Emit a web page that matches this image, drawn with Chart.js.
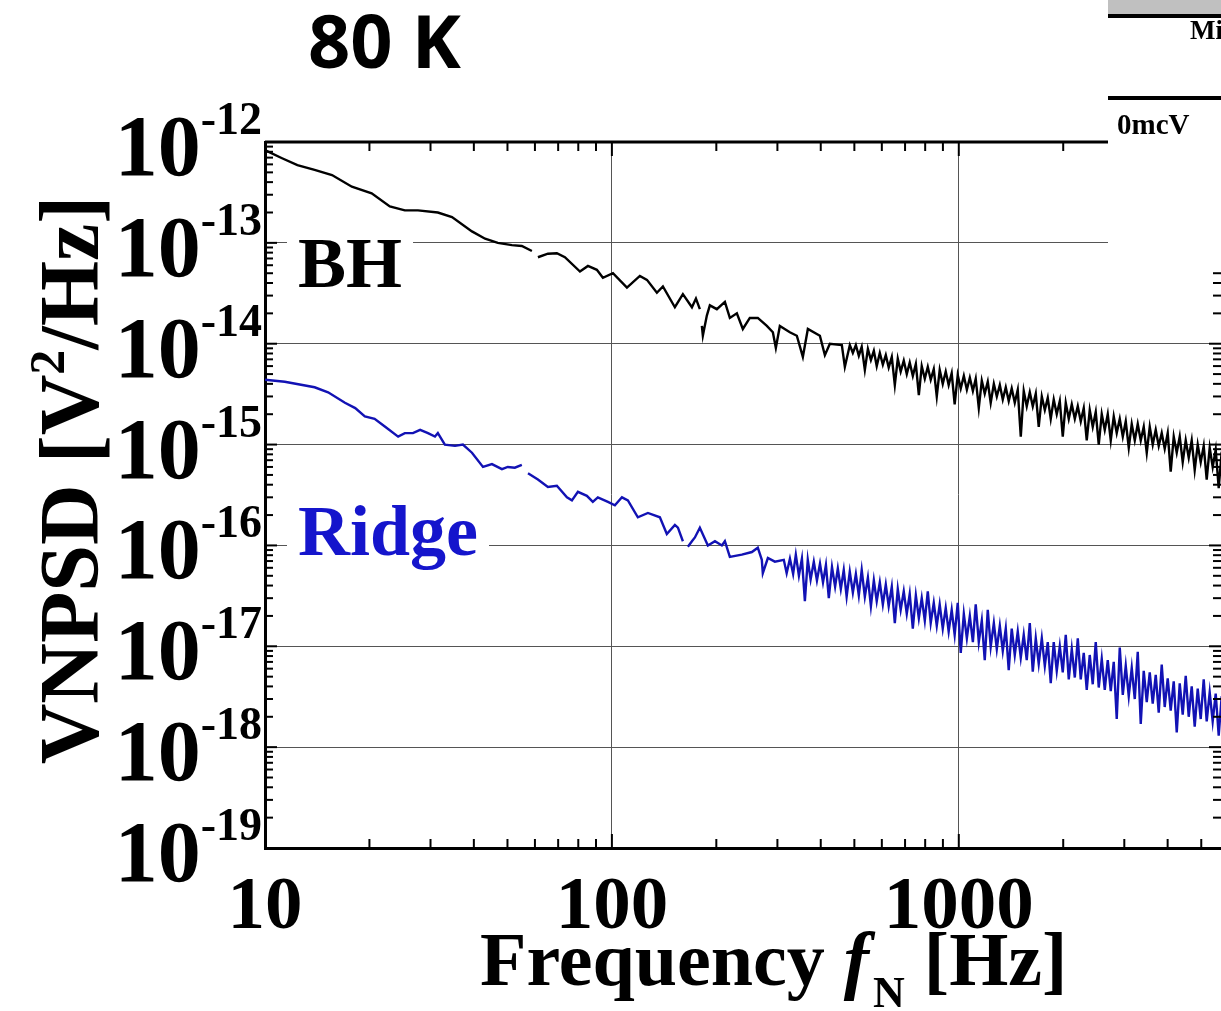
<!DOCTYPE html>
<html>
<head>
<meta charset="utf-8">
<script src="https://cdn.jsdelivr.net/npm/chart.js@4.4.0/dist/chart.umd.min.js"></script>
<style>
  html, body { margin: 0; padding: 0; background: #fff; }
  canvas { display: block; }
</style>
</head>
<body>
<canvas id="myChart" width="1221" height="1011"></canvas>
<script>
// values (frequency in Hz, VNPSD in V^2/Hz), null = gap in the trace
const bhFreqLow = [10, 11.2, 12.4, 13.9, 15.6, 17.8, 20.3, 22.9, 25.3, 27.6, 31.5, 34.6, 39.5, 43.1, 46.9, 51.5, 55.0, 58.8, 60,
  61.2, 65.4, 69.4, 73.2, 80.9, 85.3, 90.5, 94.2, 100.7, 110.5, 120.4, 126.2, 134.8, 140.3, 151.9, 160.2, 170.1, 174.7, 179.3, 180.5,
  181.7, 182.9, 187.8, 191.6, 200.7, 211.7, 218.8, 229.2, 238.5, 249.8, 263.4, 279.7, 291.1, 296.9, 304.9, 325.8, 341.3, 355.2,
  367.2, 397.7, 411.1, 424.9, 460.1, 469.4, 485.2];
const bhPsdLow = [8.3e-13, 6.9e-13, 5.9e-13, 5.3e-13, 4.7e-13, 3.6e-13, 3.1e-13, 2.3e-13, 2.1e-13, 2.1e-13, 2.0e-13, 1.8e-13,
  1.3e-13, 1.1e-13, 1.0e-13, 9.5e-14, 9.3e-14, 8.3e-14, null,
  7.2e-14, 7.8e-14, 7.9e-14, 7.2e-14, 5.2e-14, 5.9e-14, 5.4e-14, 4.5e-14, 5.0e-14, 3.6e-14, 4.7e-14, 4.3e-14, 3.2e-14, 3.7e-14,
  2.3e-14, 3.1e-14, 2.3e-14, 2.8e-14, 2.2e-14, null,
  1.5e-14, 1.2e-14, 1.9e-14, 2.4e-14, 2.2e-14, 2.6e-14, 1.8e-14, 2.0e-14, 1.4e-14, 1.8e-14, 1.8e-14, 1.5e-14, 1.3e-14, 9.1e-15,
  1.5e-14, 1.3e-14, 1.2e-14, 7.4e-15, 1.4e-14, 1.2e-14, 7.7e-15, 1.0e-14, 9.7e-15, 5.9e-15, 9.7e-15];

const ridgeFreqLow = [10, 11.4, 13.9, 15.2, 17.0, 18.2, 19.4, 20.7, 22.2, 24.2, 25.3, 26.7, 28.0, 29.5, 30.9, 31.5, 33.0, 35.3,
  37.2, 39.5, 42.5, 45.1, 48.2, 50.1, 52.5, 55.0, 56,
  57.3, 61.2, 65.4, 69.4, 74.2, 76.7, 79.8, 84.7, 88.1, 91.1, 97.4, 102.0, 106.9, 111.2, 118.8, 127.0, 137.5, 144.0, 151.9,
  155.0, 160.2, 163,
  165.6, 170.1, 173.5, 179.3, 189.1, 198.2, 207.5, 211.7, 218.8, 236.9, 253.2, 263.4, 270.5, 272.3, 281.6, 295.0,
  313, 319, 326, 333, 339, 346, 353, 360, 367, 374, 382, 390, 398, 406, 414, 422, 431, 440, 448, 457, 466, 475, 485];
const ridgePsdLow = [4.4e-15, 4.2e-15, 3.7e-15, 3.3e-15, 2.6e-15, 2.3e-15, 1.9e-15, 1.8e-15, 1.5e-15, 1.2e-15, 1.3e-15, 1.3e-15,
  1.4e-15, 1.3e-15, 1.2e-15, 1.3e-15, 1.0e-15, 9.7e-16, 1.0e-15, 8.3e-16, 6.0e-16, 6.4e-16, 5.7e-16, 6.0e-16, 5.9e-16, 6.3e-16, null,
  5.2e-16, 4.5e-16, 3.8e-16, 3.9e-16, 3.0e-16, 2.8e-16, 3.4e-16, 3.1e-16, 2.7e-16, 3.0e-16, 2.7e-16, 2.5e-16, 3.0e-16, 2.8e-16,
  1.9e-16, 2.1e-16, 1.9e-16, 1.3e-16, 1.6e-16, 1.5e-16, 1.1e-16, null,
  9.7e-17, 1.1e-16, 1.2e-16, 1.5e-16, 1.0e-16, 1.1e-16, 1.0e-16, 1.1e-16, 7.7e-17, 8.1e-17, 8.6e-17, 9.5e-17, 7.2e-17, 5.3e-17,
  7.5e-17, 6.9e-17,
  7.2e-17, 5.3e-17, 7.4e-17, 5.2e-17, 8.1e-17, 5.0e-17, 7.4e-17, 2.8e-17, 7.2e-17, 4.6e-17, 6.9e-17, 4.5e-17, 6.6e-17, 4.3e-17,
  6.4e-17, 3.0e-17, 6.1e-17, 3.9e-17, 5.9e-17, 3.7e-17, 5.7e-17, 3.1e-17, 5.5e-17];

// dense high-frequency part, both traces read at the same frequencies
const hfFreq = [495, 505, 515, 525, 536, 547, 558, 569, 580, 592, 604, 616, 628, 641, 654, 667, 680, 694, 708, 722,
  737, 752, 767, 782, 798, 814, 830, 847, 864, 881, 899, 917, 935, 954, 973, 993, 1013, 1034, 1055, 1076,
  1098, 1119, 1142, 1165, 1188, 1212, 1236, 1262, 1287, 1313, 1339, 1366, 1393, 1421, 1450, 1479, 1509, 1539, 1570, 1602,
  1634, 1667, 1700, 1735, 1770, 1805, 1841, 1878, 1916, 1955, 1994, 2034, 2075, 2117, 2160, 2203, 2247, 2292, 2338, 2385,
  2433, 2482, 2532, 2583, 2635, 2688, 2742, 2797, 2853, 2911, 2970, 3029, 3090, 3152, 3216, 3280, 3346, 3413, 3482, 3552,
  3623, 3696, 3770, 3846, 3923, 4002, 4082, 4165, 4249, 4334, 4421, 4510, 4601, 4693, 4787, 4884, 4982, 5082, 5184, 5288,
  5394, 5503, 5614, 5727];
const bhPsdHf = [8.1e-15, 9.7e-15, 7.6e-15, 9.3e-15, 5.5e-15, 8.9e-15, 6.9e-15, 8.5e-15, 6.0e-15, 8.1e-15,
  6.2e-15, 7.7e-15, 5.8e-15, 7.4e-15, 3.9e-15, 7.1e-15, 5.3e-15, 6.8e-15, 5.0e-15, 6.5e-15,
  4.8e-15, 6.3e-15, 3.1e-15, 6.0e-15, 4.5e-15, 5.9e-15, 4.4e-15, 5.6e-15, 3.0e-15, 5.5e-15,
  4.0e-15, 5.3e-15, 3.9e-15, 5.1e-15, 2.5e-15, 4.9e-15, 3.6e-15, 4.8e-15, 3.5e-15, 4.6e-15,
  3.4e-15, 4.5e-15, 2.3e-15, 4.3e-15, 3.2e-15, 4.2e-15, 2.6e-15, 4.0e-15, 3.0e-15, 3.9e-15,
  2.8e-15, 3.7e-15, 2.7e-15, 3.6e-15, 2.6e-15, 3.5e-15, 1.2e-15, 3.4e-15, 2.4e-15, 3.3e-15,
  2.4e-15, 3.2e-15, 1.5e-15, 3.0e-15, 2.2e-15, 2.9e-15, 1.8e-15, 2.8e-15, 2.0e-15, 2.7e-15,
  1.2e-15, 2.6e-15, 1.8e-15, 2.5e-15, 1.8e-15, 2.4e-15, 1.7e-15, 2.3e-15, 1.1e-15, 2.2e-15,
  1.5e-15, 2.1e-15, 1.0e-15, 2.0e-15, 1.4e-15, 2.0e-15, 1.1e-15, 1.9e-15, 1.3e-15, 1.8e-15,
  1.2e-15, 1.7e-15, 9.3e-16, 1.6e-15, 1.1e-15, 1.6e-15, 1.1e-15, 1.5e-15, 8.3e-16, 1.5e-15,
  1.0e-15, 1.4e-15, 9.7e-16, 1.3e-15, 9.1e-16, 1.3e-15, 5.4e-16, 1.2e-15, 8.3e-16, 1.2e-15,
  6.7e-16, 1.1e-15, 7.4e-16, 1.1e-15, 5.6e-16, 1.0e-15, 6.7e-16, 9.7e-16, 4.5e-16, 9.3e-16,
  6.0e-16, 8.9e-16, 3.7e-16, 8.5e-16];
const ridgePsdHf = [3.4e-17, 5.2e-17, 3.2e-17, 5.7e-17, 3.1e-17, 4.8e-17, 2.5e-17, 4.5e-17, 2.8e-17, 4.3e-17,
  2.6e-17, 4.1e-17, 2.5e-17, 3.9e-17, 1.7e-17, 3.7e-17, 2.3e-17, 3.5e-17, 2.1e-17, 3.3e-17,
  1.5e-17, 3.2e-17, 1.9e-17, 3.0e-17, 1.8e-17, 3.5e-17, 1.7e-17, 2.7e-17, 1.6e-17, 2.6e-17,
  1.5e-17, 2.4e-17, 1.4e-17, 2.3e-17, 1.3e-17, 2.7e-17, 8.6e-18, 2.1e-17, 1.2e-17, 2.0e-17,
  1.1e-17, 2.6e-17, 1.1e-17, 1.8e-17, 7.3e-18, 2.3e-17, 9.9e-18, 1.7e-17, 9.4e-18, 1.6e-17,
  9.0e-18, 1.5e-17, 5.8e-18, 1.5e-17, 8.2e-18, 1.4e-17, 7.7e-18, 1.3e-17, 7.3e-18, 1.7e-17,
  5.6e-18, 1.2e-17, 6.7e-18, 1.2e-17, 6.4e-18, 1.1e-17, 4.3e-18, 1.1e-17, 5.7e-18, 1.0e-17,
  5.5e-18, 1.3e-17, 4.7e-18, 9.4e-18, 4.9e-18, 1.2e-17, 4.7e-18, 8.6e-18, 3.7e-18, 8.2e-18,
  4.2e-18, 1.1e-17, 3.9e-18, 7.5e-18, 3.7e-18, 7.3e-18, 3.6e-18, 7.0e-18, 1.9e-18, 9.7e-18,
  3.3e-18, 6.4e-18, 3.2e-18, 6.1e-18, 3.0e-18, 8.8e-18, 1.7e-18, 5.7e-18, 2.8e-18, 5.5e-18,
  2.7e-18, 5.2e-18, 2.2e-18, 6.6e-18, 2.5e-18, 4.8e-18, 2.3e-18, 4.5e-18, 1.4e-18, 4.3e-18,
  2.1e-18, 5.1e-18, 2.0e-18, 4.0e-18, 1.6e-18, 3.8e-18, 1.9e-18, 4.7e-18, 1.8e-18, 3.5e-18,
  1.8e-18, 3.4e-18, 1.3e-18, 3.2e-18];

// axis ticks
const xMajor = [10, 100, 1000];
const xTickLabels = ['10', '100', '1000'];
const yMajor = [1e-19, 1e-18, 1e-17, 1e-16, 1e-15, 1e-14, 1e-13, 1e-12];
const yTickExp = ['-19', '-18', '-17', '-16', '-15', '-14', '-13', '-12'];

const SERIF = '"Liberation Serif", "Times New Roman", serif';

function toPoints(xs, ys) {
  return xs.map((f, i) => ({ x: f, y: ys[i] }));
}

function seg(ctx, x1, y1, x2, y2) {
  ctx.beginPath();
  ctx.moveTo(x1, y1);
  ctx.lineTo(x2, y2);
  ctx.stroke();
}

const decor = {
  id: 'decor',
  afterDraw(chart) {
    const { ctx, chartArea: a } = chart;
    const xs = chart.scales.x, ys = chart.scales.y;
    const coverX = 1108, coverY = 268;
    ctx.save();

    // inward minor ticks
    ctx.strokeStyle = '#000';
    ctx.lineWidth = 2;
    for (let e = -19; e < -12; e++) {
      for (let m = 1; m < 10; m++) {
        const py = ys.getPixelForValue(m * Math.pow(10, e));
        const len = m === 1 ? 12 : 8;
        seg(ctx, a.left, py, a.left + len, py);
        if (py > coverY) seg(ctx, a.right, py, a.right - len, py);
      }
    }
    xMajor.forEach(dec => {
      for (let m = 1; m < 10; m++) {
        const f = m * dec;
        if (f > xs.max) continue;
        const px = xs.getPixelForValue(f);
        const len = m === 1 ? 14 : 9;
        seg(ctx, px, a.bottom, px, a.bottom - len);
        if (px < coverX) seg(ctx, px, a.top, px, a.top + len);
      }
    });

    // cut-off corner where the next panel sits
    ctx.fillStyle = '#fff';
    ctx.fillRect(coverX, 0, chart.width - coverX, coverY);
    ctx.lineWidth = 3;
    seg(ctx, a.left, a.top, coverX, a.top);

    ctx.fillStyle = '#c0c0c0';
    ctx.fillRect(coverX, 0, chart.width - coverX, 14);
    ctx.fillStyle = '#000';
    ctx.fillRect(coverX, 14, chart.width - coverX, 4);
    ctx.fillRect(coverX, 96, chart.width - coverX, 4);
    ctx.font = 'bold 27px ' + SERIF;
    ctx.fillText('Mi', 1190, 39);
    ctx.font = 'bold 29px ' + SERIF;
    ctx.fillText('0mcV', 1117, 134);

    // title
    ctx.font = 'bold 74px "Open Sans", sans-serif';
    ctx.textBaseline = 'alphabetic';
    ctx.fillText('80 K', 308, 68);

    // y tick labels 10^n
    yMajor.forEach((v, i) => {
      const py = ys.getPixelForValue(v);
      ctx.font = 'bold 86px ' + SERIF;
      const wb = ctx.measureText('10').width;
      ctx.font = 'bold 46px ' + SERIF;
      const we = ctx.measureText(yTickExp[i]).width;
      const left = 262 - wb - we;
      ctx.font = 'bold 86px ' + SERIF;
      ctx.fillText('10', left, py + 33);
      ctx.font = 'bold 46px ' + SERIF;
      ctx.fillText(yTickExp[i], left + wb, py - 8);
    });

    // x tick labels
    ctx.textAlign = 'center';
    ctx.font = 'bold 75px ' + SERIF;
    xMajor.forEach((v, i) => {
      ctx.fillText(xTickLabels[i], xs.getPixelForValue(v), 928);
    });
    ctx.textAlign = 'left';

    // x title
    let tx = 480;
    const bl = 985;
    ctx.font = 'bold 76px ' + SERIF;
    ctx.fillText('Frequency ', tx, bl);
    tx += ctx.measureText('Frequency ').width;
    ctx.font = 'italic bold 76px ' + SERIF;
    ctx.fillText('f', tx, bl);
    tx += ctx.measureText('f').width + 4;
    ctx.font = 'bold 44px ' + SERIF;
    ctx.fillText('N', tx, bl + 22);
    tx += ctx.measureText('N').width;
    ctx.font = 'bold 76px ' + SERIF;
    ctx.fillText(' [Hz]', tx, bl);

    // y title, rotated
    ctx.save();
    ctx.translate(98, 480);
    ctx.rotate(-Math.PI / 2);
    ctx.font = 'bold 84px ' + SERIF;
    const w1 = ctx.measureText('VNPSD [V').width;
    const w3 = ctx.measureText('/Hz]').width;
    ctx.font = 'bold 50px ' + SERIF;
    const w2 = ctx.measureText('2').width;
    let sx = -(w1 + w2 + w3) / 2;
    ctx.font = 'bold 84px ' + SERIF;
    ctx.fillText('VNPSD [V', sx, 0);
    sx += w1;
    ctx.font = 'bold 50px ' + SERIF;
    ctx.fillText('2', sx, -34);
    sx += w2;
    ctx.font = 'bold 84px ' + SERIF;
    ctx.fillText('/Hz]', sx, 0);
    ctx.restore();

    // series labels on white boxes
    ctx.font = 'bold 72px ' + SERIF;
    ctx.fillStyle = '#fff';
    ctx.fillRect(287, 222, ctx.measureText('BH').width + 22, 70);
    ctx.fillStyle = '#000';
    ctx.fillText('BH', 298, 287);
    ctx.fillStyle = '#fff';
    ctx.fillRect(287, 500, ctx.measureText('Ridge').width + 22, 78);
    ctx.fillStyle = '#1515cc';
    ctx.fillText('Ridge', 298, 555);

    ctx.restore();
  }
};

const ctx = document.getElementById('myChart').getContext('2d');
new Chart(ctx, {
  type: 'line',
  data: {
    datasets: [{
      label: 'BH',
      data: toPoints(bhFreqLow.concat(hfFreq), bhPsdLow.concat(bhPsdHf)),
      borderColor: '#000',
      borderWidth: 2.4,
      pointRadius: 0,
      spanGaps: false
    }, {
      label: 'Ridge',
      data: toPoints(ridgeFreqLow.concat(hfFreq), ridgePsdLow.concat(ridgePsdHf)),
      borderColor: '#1212b4',
      borderWidth: 2.4,
      pointRadius: 0,
      spanGaps: false
    }]
  },
  options: {
    responsive: false,
    animation: false,
    layout: { padding: { left: 265, top: 142, right: 0, bottom: 163 } },
    plugins: { legend: { display: false }, tooltip: { enabled: false } },
    scales: {
      x: {
        type: 'logarithmic',
        min: 10,
        max: 5700,
        afterBuildTicks: s => { s.ticks = xMajor.map(v => ({ value: v })); },
        afterFit: s => { s.height = 0; },
        ticks: { display: false },
        grid: { color: '#555', lineWidth: 1, drawTicks: false },
        border: { display: true, color: '#000', width: 3 }
      },
      y: {
        type: 'logarithmic',
        min: 1e-19,
        max: 1e-12,
        afterBuildTicks: s => { s.ticks = yMajor.map(v => ({ value: v })); },
        afterFit: s => { s.width = 0; },
        ticks: { display: false },
        grid: { color: '#555', lineWidth: 1, drawTicks: false },
        border: { display: true, color: '#000', width: 3 }
      }
    }
  },
  plugins: [decor]
});
</script>
</body>
</html>
